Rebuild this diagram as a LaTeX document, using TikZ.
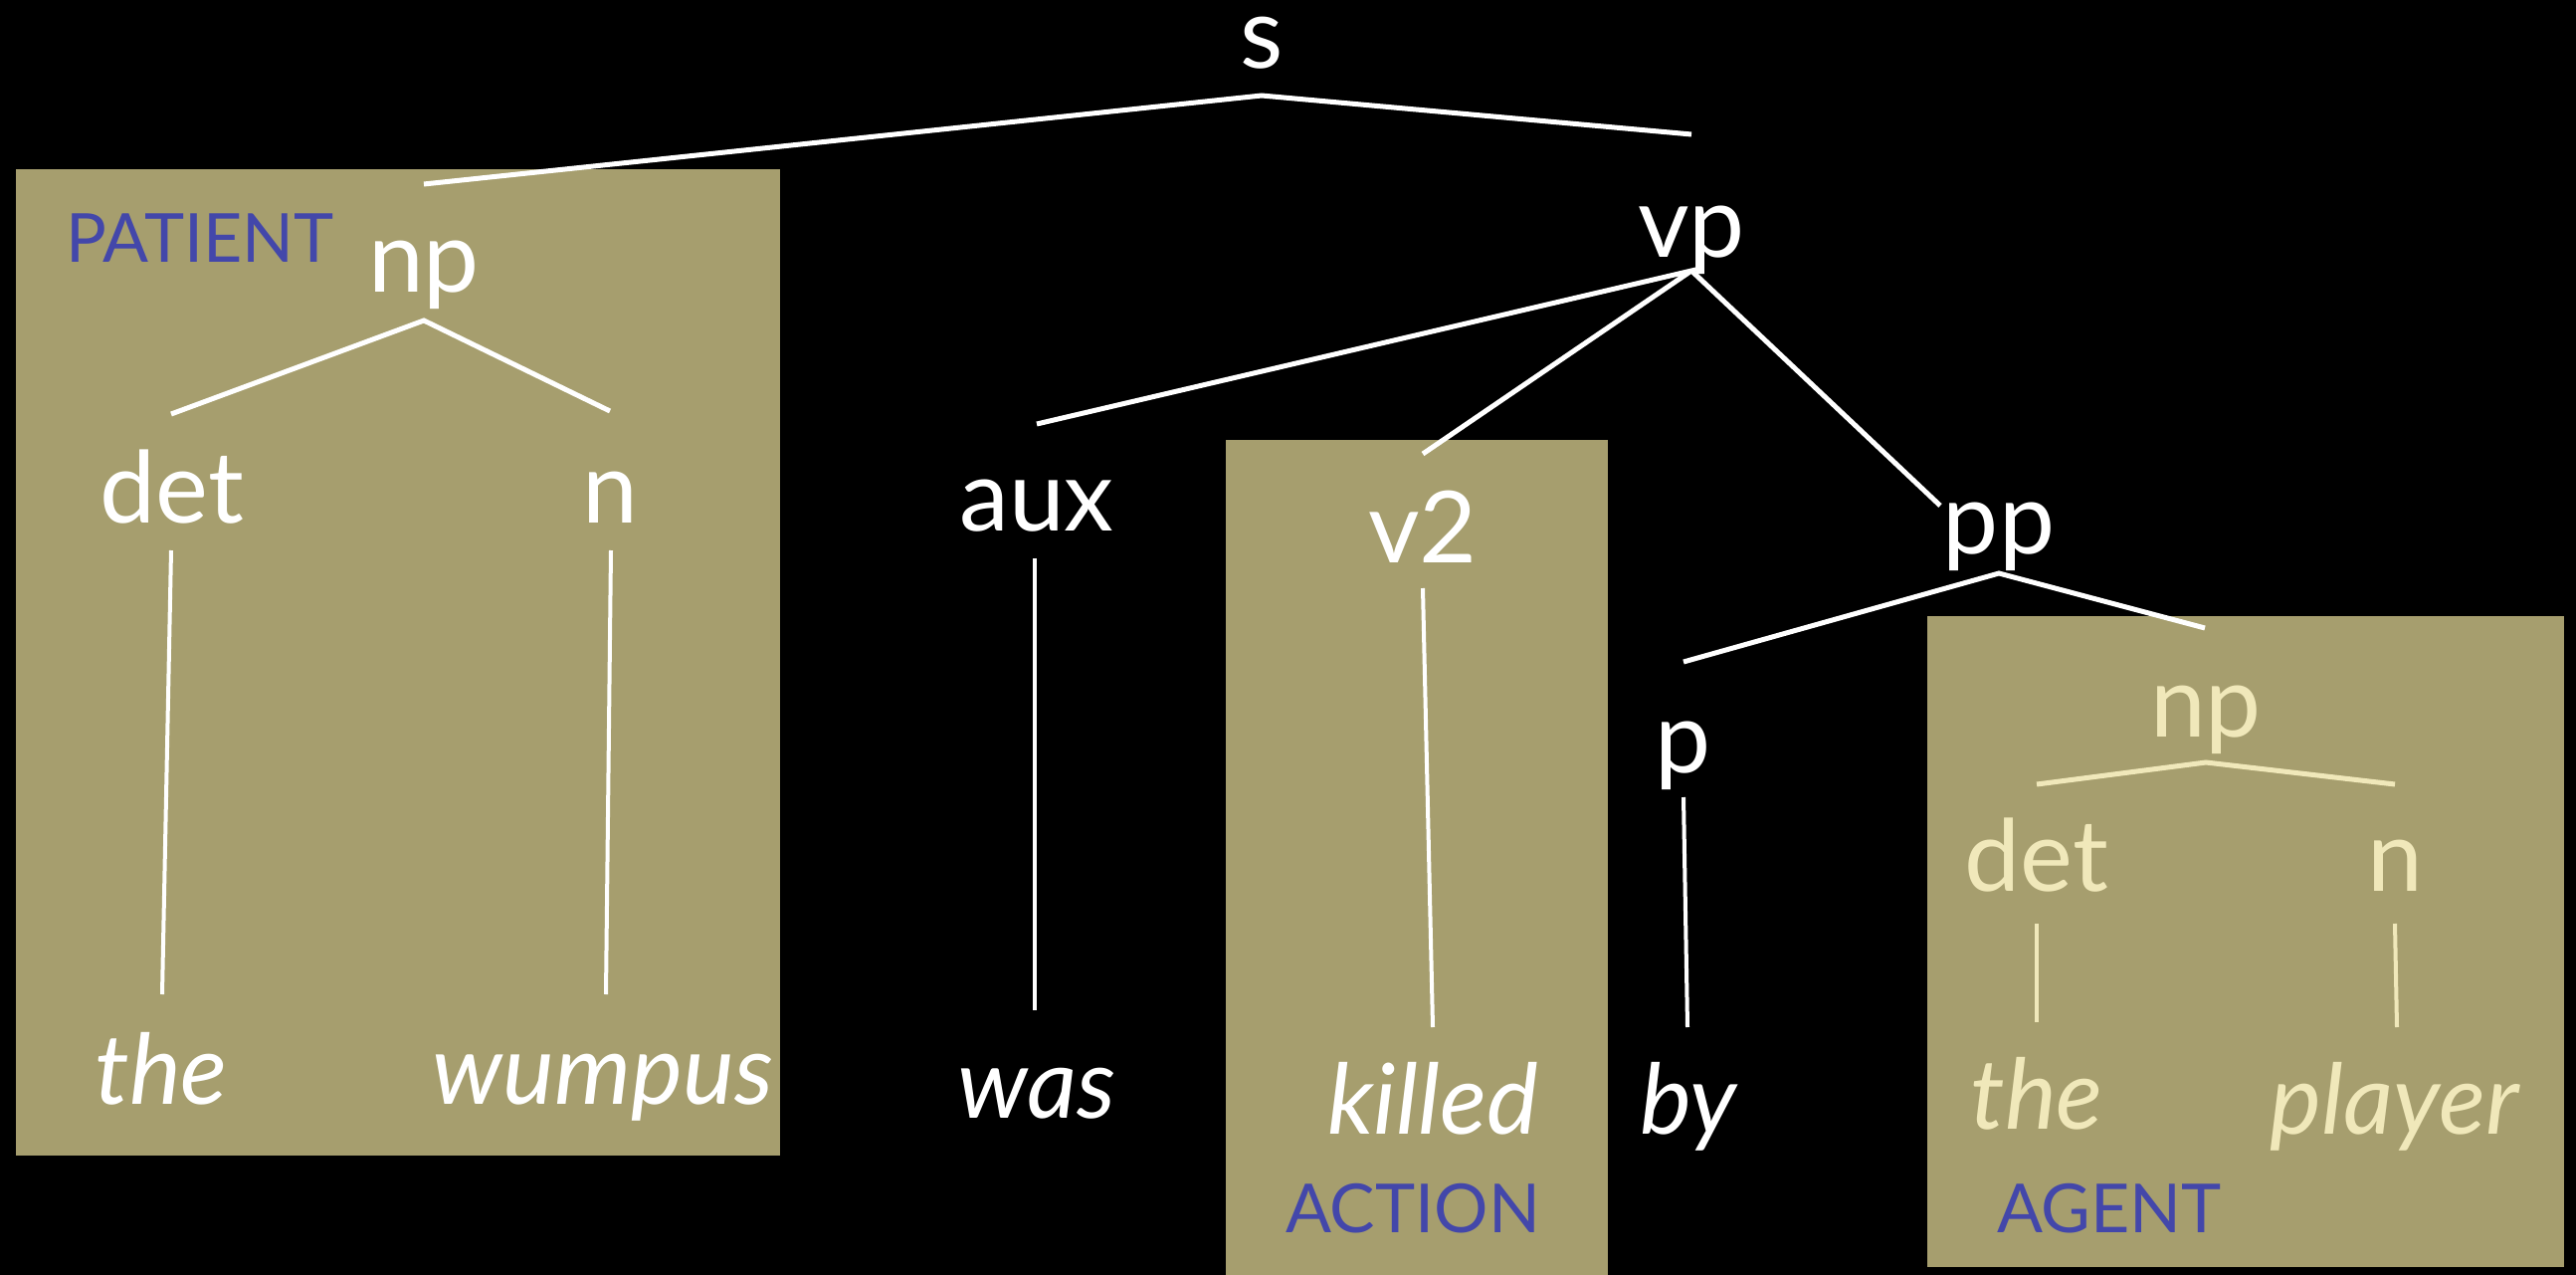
\documentclass[tikz,border=0pt]{standalone}
\usepackage{fontspec}
\setmainfont{Lato}
\definecolor{boxfill}{RGB}{166,158,110}
\definecolor{rolecol}{RGB}{67,71,170}
\definecolor{cream}{RGB}{240,232,186}
\begin{document}
\begin{tikzpicture}[x=1pt,y=-1pt,
  cat/.style={inner sep=0pt,anchor=base,text=white,font=\fontsize{100}{104}\selectfont},
  word/.style={cat,font=\fontsize{98}{104}\selectfont\itshape},
  role/.style={inner sep=0pt,anchor=base,text=rolecol,font=\fontsize{68}{72}\selectfont},
  branch/.style={draw=white,line width=5pt},
  leaf/.style={draw=white,line width=4pt},
  region/.style={fill=boxfill,draw=none}]
% canvas
\fill[black] (0,0) rectangle (2589,1281);
\useasboundingbox (0,0) rectangle (2589,1281);
% highlighted constituents
\fill[region] (16,170) rectangle (784,1161);
\fill[region] (1232,442) rectangle (1616,1281);
\fill[region] (1937,619) rectangle (2577,1273);
% role labels
\node[role] (patient) at (201,264) {PATIENT};
\node[role] (action)  at (1420,1238) {ACTION};
\node[role] (agent)   at (2120,1238) {AGENT};
% tree labels
\node[cat] (s)   at (1268,69)  {s};
\node[cat] (np1) at (426,294)  {np};
\node[cat] (det1) at (173,525) {det};
\node[cat] (n1)  at (613,525)  {n};
\node[word] (the1) at (162,1109) {the};
\node[word] (wumpus) at (606,1109) {wumpus};
\node[cat] (vp)  at (1700,259) {vp};
\node[cat] (aux) at (1042,533) {aux};
\node[word] (was) at (1042,1123) {was};
\node[cat] (v2)  at (1430,565) {v2};
\node[word] (killed) at (1440,1139) {killed};
\node[cat] (pp)  at (2009,556) {pp};
\node[cat] (p)   at (1692,776) {p};
\node[word] (by) at (1697,1139) {by};
\node[cat,text=cream] (np2) at (2217,740) {np};
\node[cat,text=cream] (det2) at (2047,895) {det};
\node[cat,text=cream] (n2) at (2407,895) {n};
\node[word,text=cream] (the2) at (2047,1134) {the};
\node[word,text=cream] (player) at (2407,1139) {player};
% branches
\draw[branch] ([shift={(0,-109)}]np1.base) -- ([shift={(0,27)}]s.base) -- ([shift={(0,-124)}]vp.base);
\draw[branch] ([shift={(-1,-109)}]det1.base) -- ([shift={(0,28)}]np1.base) -- ([shift={(0,-112)}]n1.base);
\draw[leaf] ([shift={(-1,28)}]det1.base) -- ([shift={(1,-110)}]the1.base);
\draw[leaf] ([shift={(1,28)}]n1.base) -- ([shift={(3,-110)}]wumpus.base);
\draw[branch] ([shift={(0,-107)}]aux.base) -- ([shift={(0,13)}]vp.base) -- ([shift={(0,-109)}]v2.base);
\draw[branch] ([shift={(0,13)}]vp.base) -- ([shift={(-59,-48)}]pp.base);
\draw[leaf] ([shift={(-2,28)}]aux.base) -- ([shift={(-2,-108)}]was.base);
\draw[leaf] ([shift={(0,26)}]v2.base) -- ([shift={(0,-107)}]killed.base);
\draw[branch] ([shift={(0,-111)}]p.base) -- ([shift={(0,20)}]pp.base) -- ([shift={(-1,-109)}]np2.base);
\draw[leaf] ([shift={(0,25)}]p.base) -- ([shift={(-1,-107)}]by.base);
\draw[branch,draw=cream] ([shift={(0,-107)}]det2.base) -- ([shift={(0,26)}]np2.base) -- ([shift={(0,-107)}]n2.base);
\draw[leaf,draw=cream] ([shift={(0,33)}]det2.base) -- ([shift={(0,-107)}]the2.base);
\draw[leaf,draw=cream] ([shift={(0,33)}]n2.base) -- ([shift={(2,-107)}]player.base);
\end{tikzpicture}
\end{document}
